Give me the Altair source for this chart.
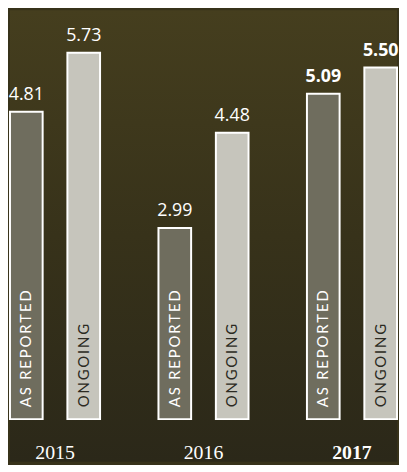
import altair as alt
import pandas as pd

years = ["2015", "2016", "2017"]
types = ["AS REPORTED", "ONGOING"]
as_reported = [4.81, 2.99, 5.09]
ongoing = [5.73, 4.48, 5.50]

rows = []
for i, y in enumerate(years):
    rows.append({"year": y, "type": types[0], "value": as_reported[i]})
    rows.append({"year": y, "type": types[1], "value": ongoing[i]})
df = pd.DataFrame(rows)
df["label"] = df["type"].apply(lambda t: "\u2009".join(list(t)))
ydf = pd.DataFrame({"year": years})

W, H = 391, 456
xscale = alt.Scale(domain=years, paddingInner=59 / 150, paddingOuter=0)
xoff = alt.XOffset("type:N", scale=alt.Scale(domain=types, paddingInner=25 / 58, paddingOuter=0))
yscale = alt.Scale(domain=[0, 6.395], range=[413, 0], nice=False, zero=True)

bg = alt.Chart(ydf).transform_aggregate(n="count()").mark_rect(
    fill=alt.Gradient(
        gradient="linear", x1=0, y1=0, x2=0, y2=1,
        stops=[
            alt.GradientStop(offset=0, color="#453e1e"),
            alt.GradientStop(offset=0.5, color="#37321a"),
            alt.GradientStop(offset=1, color="#2b2819"),
        ],
    )
).encode(x=alt.value(0), x2=alt.value("width"), y=alt.value(0), y2=alt.value("height"))

base = alt.Chart(df).encode(
    x=alt.X("year:N", scale=xscale, axis=None),
    xOffset=xoff,
)

bars = base.mark_bar(stroke="white", strokeWidth=2).encode(
    y=alt.Y("value:Q", scale=yscale, axis=None),
    color=alt.Color("type:N", scale=alt.Scale(domain=types, range=["#6f6d5e", "#c6c5bc"]), legend=None),
)

vals_n = base.transform_filter(alt.datum.year != "2017").mark_text(
    baseline="alphabetic", dy=-12, font="Open Sans", fontSize=18, color="white"
).encode(y=alt.Y("value:Q"), text=alt.Text("value:Q", format=".2f"))

vals_b = base.transform_filter(alt.datum.year == "2017").mark_text(
    baseline="alphabetic", dy=-12, font="Open Sans", fontSize=18, fontWeight="bold", color="white"
).encode(y=alt.Y("value:Q"), text=alt.Text("value:Q", format=".2f"))

inner = base.mark_text(
    angle=270, align="left", baseline="middle", dx=12, font="Lato", fontSize=15
).encode(
    y=alt.datum(0),
    text="label:N",
    color=alt.condition(alt.datum.type == "ONGOING", alt.value("#2b2a22"), alt.value("white")),
)

yr_n = alt.Chart(ydf).transform_filter(alt.datum.year != "2017").mark_text(
    baseline="alphabetic", dy=40, font="Liberation Serif", fontSize=20, color="white"
).encode(x=alt.X("year:N", scale=xscale, axis=None), y=alt.datum(0), text="year:N")

yr_b = alt.Chart(ydf).transform_filter(alt.datum.year == "2017").mark_text(
    baseline="alphabetic", dy=40, font="Liberation Serif", fontSize=20, fontWeight="bold", color="white"
).encode(x=alt.X("year:N", scale=xscale, axis=None), y=alt.datum(0), text="year:N")

chart = alt.layer(bg, bars, vals_n, vals_b, inner, yr_n, yr_b).properties(
    width=W, height=H, background="#37321a", padding=0
).configure_view(stroke=None)

chart.save("out.html", embed_options={"renderer": "svg", "actions": False})
